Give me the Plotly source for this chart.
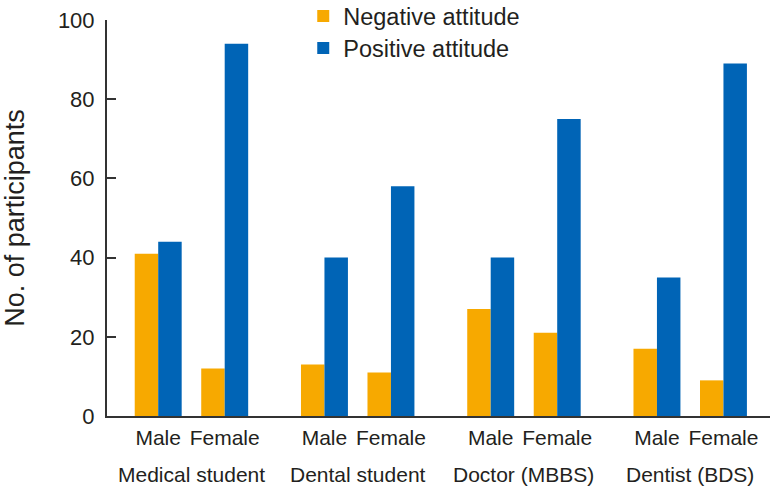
import plotly.graph_objects as go

groups = ["Medical student", "Dental student", "Doctor (MBBS)", "Dentist (BDS)"]
sexes = ["Male", "Female"]
negative = [41, 12, 13, 11, 27, 21, 17, 9]
positive = [44, 94, 40, 58, 40, 75, 35, 89]
y_ticks = [0, 20, 40, 60, 80, 100]

ORANGE = "#F7A900"
BLUE = "#0064B6"
TEXT = "#231f20"
AXIS = "#333333"
FONT = "Liberation Sans, Arial, sans-serif"

# x positions: sexes within a group are 1 unit apart, groups 2.5 units apart
xs = []
labels = []
for g in range(len(groups)):
    for s in range(len(sexes)):
        xs.append(2.5 * g + s)
        labels.append(sexes[s])

fig = go.Figure()
fig.add_trace(go.Bar(x=xs, y=negative, name="Negative attitude", legend="legend",
                     marker=dict(color=ORANGE, line=dict(width=0))))
fig.add_trace(go.Bar(x=xs, y=positive, name="Positive attitude", legend="legend2",
                     marker=dict(color=BLUE, line=dict(width=0))))

for g, name in enumerate(groups):
    fig.add_annotation(x=2.5 * g + 0.5, y=0, xref="x", yref="paper",
                       yanchor="middle", yshift=-58, text=name, showarrow=False,
                       font=dict(size=21, color=TEXT, family=FONT))

legend_style = dict(xanchor="left", yanchor="top",
                    font=dict(size=23.5, family=FONT, color=TEXT),
                    bgcolor="rgba(0,0,0,0)")

fig.update_layout(
    width=774, height=488,
    margin=dict(l=107, r=4, t=20, b=72, autoexpand=False),
    plot_bgcolor="white", paper_bgcolor="white",
    barmode="group", bargap=0.294, bargroupgap=0,
    font=dict(family=FONT, color=TEXT, size=21),
    showlegend=True,
    legend=dict(x=0.296, y=1.065, **legend_style),
    legend2=dict(x=0.296, y=0.984, **legend_style),
    xaxis=dict(range=[-0.77, 9.2], tickvals=xs, ticktext=labels,
               showline=True, linecolor=AXIS, linewidth=2,
               ticks="", showgrid=False, zeroline=False, ticklabelstandoff=2,
               tickfont=dict(size=21, family=FONT, color=TEXT)),
    yaxis=dict(range=[0, 100], tickvals=y_ticks,
               showline=True, linecolor=AXIS, linewidth=2,
               ticks="inside", ticklen=9, tickcolor=AXIS, tickwidth=1.5,
               showgrid=False, zeroline=False, ticklabelstandoff=6,
               tickfont=dict(size=22, family=FONT, color=TEXT),
               title=dict(text="No. of participants", standoff=27,
                          font=dict(size=27, family=FONT, color=TEXT))),
)

fig.write_html("out.html", config={"displayModeBar": False},
               post_script="document.body.style.margin='0';")
